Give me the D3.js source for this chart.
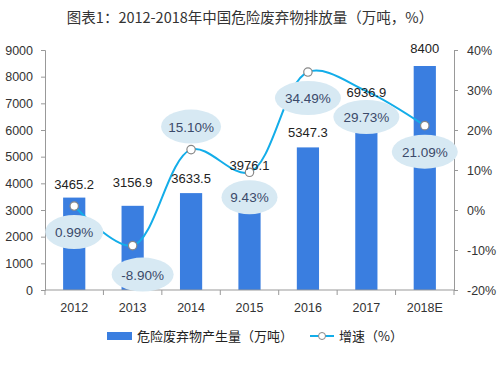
<!DOCTYPE html>
<html><head><meta charset="utf-8">
<script src="https://cdn.jsdelivr.net/npm/d3@7"></script>
<style>body{margin:0;background:#fff}svg{display:block;font-family:"Liberation Sans","Noto Sans CJK SC",sans-serif}</style>
</head><body><svg id="c" width="500" height="390"></svg>
<script>
const categories = ["2012","2013","2014","2015","2016","2017","2018E"];
const amount = [3465.2,3156.9,3633.5,3976.1,5347.3,6936.9,8400];
const growth = [0.99,-8.90,15.10,9.43,34.49,29.73,21.09];
const leftTicks = [0,1000,2000,3000,4000,5000,6000,7000,8000,9000];
const rightTicks = [-20,-10,0,10,20,30,40];
const title = "图表1：2012-2018年中国危险废弃物排放量（万吨，%）";
const legendBar = "危险废弃物产生量（万吨）";
const legendLine = "增速（%）";
// layout-only label placement
const amtLabelDy = [-14,-24,-15,-19,-15,-13,-18];
const gLabelDx = [0,10,0,0,0,0,0];
const gLabelDy = [26,29,-23,25,26,26,26];
const gLabelRx = [29,31,30,28,33,33,33];
const markerShown = [true,true,true,true,true,false,true];

const svg = d3.select("#c");
const L=45,R=454,T=50,B=290;
const x = d3.scaleBand().domain(categories).range([L,R]).paddingInner(0.62).paddingOuter(0.31);
const xb = d3.scaleBand().domain(categories).range([L,R]);
const yL = d3.scaleLinear().domain([0,9000]).range([B,T]);
const yR = d3.scaleLinear().domain([-20,40]).range([B,T]);

svg.append("text").attr("x",250).attr("y",23).attr("text-anchor","middle")
  .attr("font-size",14.5).attr("fill","#333").attr("font-family","Noto Sans CJK SC, sans-serif").text(title);

// bars
svg.selectAll("rect.bar").data(amount).join("rect").attr("class","bar")
  .attr("x",(d,i)=>x(categories[i])).attr("width",x.bandwidth())
  .attr("y",d=>yL(d)).attr("height",d=>B-yL(d)).attr("fill","#3a7ee0");

// axes
const axL = svg.append("g").attr("transform",`translate(${L},0)`)
  .call(d3.axisLeft(yL).tickValues(leftTicks).tickSize(4).tickPadding(8).tickFormat(d3.format("d")));
const axR = svg.append("g").attr("transform",`translate(${R},0)`)
  .call(d3.axisRight(yR).tickValues(rightTicks).tickSize(4).tickPadding(9).tickFormat(d=>d+"%"));
const axB = svg.append("g").attr("transform",`translate(0,${B})`)
  .call(d3.axisBottom(xb).tickSize(0).tickPadding(13));
axB.selectAll(".tick").append("line").attr("x1",-xb.bandwidth()/2).attr("x2",-xb.bandwidth()/2).attr("y1",0).attr("y2",5).attr("stroke","#999");
axB.append("line").attr("x1",R).attr("x2",R).attr("y1",0).attr("y2",5).attr("stroke","#999");
[axL,axR,axB].forEach(a=>{
  a.select(".domain").attr("stroke","#999");
  a.selectAll(".tick line").attr("stroke","#999");
  a.selectAll("text").attr("fill","#333").attr("font-size",12.5).attr("font-family","Liberation Sans, sans-serif");
});
axB.select(".domain").attr("d",`M${L},0H${R}`);

// line
const cx = i=>xb(categories[i])+xb.bandwidth()/2;
const line = d3.line().x((d,i)=>cx(i)).y(d=>yR(d)).curve(d3.curveCatmullRom.alpha(0.5));
svg.append("path").datum(growth).attr("d",line).attr("fill","none").attr("stroke","#13ade9").attr("stroke-width",2);
svg.selectAll("circle.m").data(growth).join("circle").attr("class","m")
  .attr("cx",(d,i)=>cx(i)).attr("cy",d=>yR(d)).attr("r",4.2)
  .attr("display",(d,i)=>markerShown[i]?null:"none")
  .attr("fill","#fff").attr("stroke","#888").attr("stroke-width",1.2);

// amount labels
svg.selectAll("text.amt").data(amount).join("text").attr("class","amt")
  .attr("x",(d,i)=>xb(categories[i])+xb.bandwidth()/2)
  .attr("y",(d,i)=>yL(d)+amtLabelDy[i]+5).attr("text-anchor","middle")
  .attr("font-size",13).attr("fill","#222").text(d=>d3.format(".1f")(d).replace(/\.0$/,""));

// growth labels
const gl = svg.selectAll("g.gl").data(growth).join("g").attr("class","gl")
  .attr("transform",(d,i)=>`translate(${cx(i)+gLabelDx[i]},${yR(d)+gLabelDy[i]})`);
gl.append("ellipse").attr("rx",(d,i)=>gLabelRx[i]).attr("ry",17).attr("fill","#d7e9f3");
gl.append("text").attr("text-anchor","middle").attr("y",5).attr("font-size",13.5).attr("fill","#3b4a6a")
  .text(d=>d.toFixed(2)+"%");

// legend
const lg = svg.append("g").attr("transform","translate(0,336)");
lg.append("rect").attr("x",107).attr("y",-4).attr("width",25).attr("height",8).attr("fill","#3a7ee0");
lg.append("text").attr("x",137).attr("y",5).attr("font-size",13).attr("fill","#222").attr("font-family","Noto Sans CJK SC, sans-serif").text(legendBar);
lg.append("line").attr("x1",310).attr("x2",334).attr("y1",0).attr("y2",0).attr("stroke","#13ade9").attr("stroke-width",2);
lg.append("circle").attr("cx",322).attr("cy",0).attr("r",3.5).attr("fill","#fff").attr("stroke","#888");
lg.append("text").attr("x",339).attr("y",5).attr("font-size",13).attr("fill","#222").attr("font-family","Noto Sans CJK SC, sans-serif").text(legendLine);
</script></body></html>
